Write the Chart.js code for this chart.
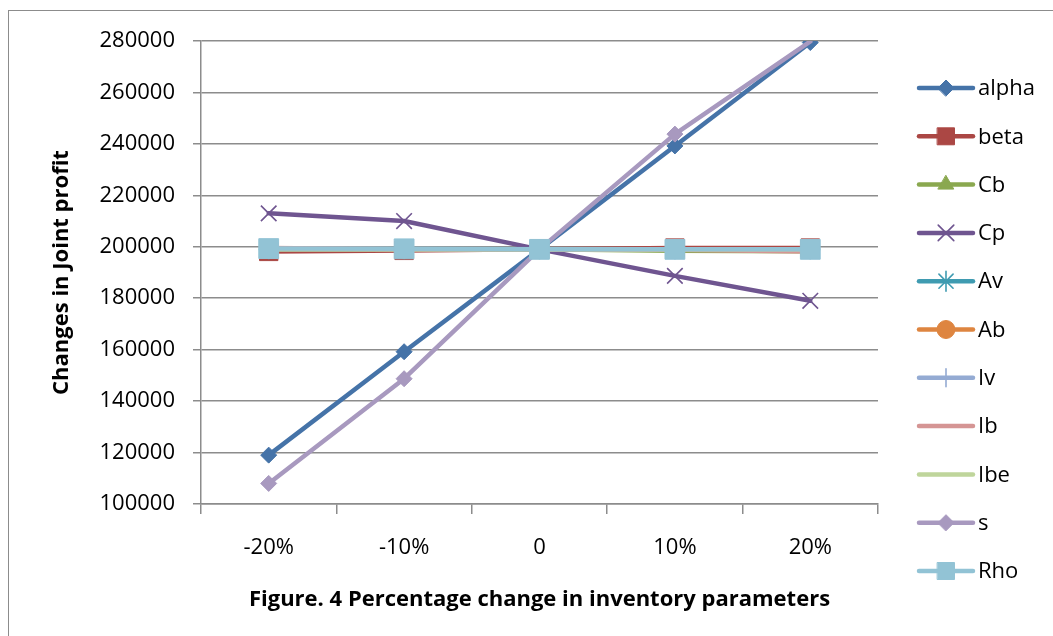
<!DOCTYPE html>
<html>
<head>
<meta charset="utf-8">
<script src="https://cdn.jsdelivr.net/npm/chart.js@4"></script>
<style>
  html, body { margin: 0; padding: 0; background: #fff; overflow: hidden; }
  #wrap { position: relative; width: 1053px; height: 636px; }
  #frame { position: absolute; left: 8px; top: 10px; width: 1100px; height: 700px; border: 1.5px solid #8c8c8c; box-sizing: border-box; }
  canvas { position: absolute; left: 0; top: 0; }
</style>
</head>
<body>
<div id="wrap">
  <div id="frame"></div>
  <canvas id="chart" width="1053" height="636"></canvas>
</div>
<script>
// Percentage changes applied to each inventory parameter
const categories = ['-20%', '-10%', '0', '10%', '20%'];

// Joint profit for each parameter change
const alphaValues = [119000, 159200, 199000, 239200, 279400];
const betaValues  = [198200, 198600, 199000, 199500, 199500];
const cbValues    = [199000, 199000, 199000, 198500, 198300];
const cpValues    = [213000, 210000, 199000, 188700, 179000];
const avValues    = [199000, 199000, 199000, 199000, 199000];
const abValues    = [199000, 199000, 199000, 199000, 199000];
const ivValues    = [199000, 199000, 199000, 199000, 199000];
const ibValues    = [199500, 199000, 199000, 198800, 198200];
const ibeValues   = [199000, 199000, 199000, 199000, 199000];
const sValues     = [108000, 148700, 199000, 243800, 279800];
const rhoValues   = [199300, 199200, 199000, 199000, 199000];

// Axis range
const yMin = 100000;
const yMax = 280000;
const yStep = 20000;

const seriesNames = ['alpha', 'beta', 'Cb', 'Cp', 'Av', 'Ab', 'Iv', 'Ib', 'Ibe', 's', 'Rho'];
const seriesValues = [alphaValues, betaValues, cbValues, cpValues, avValues, abValues,
                      ivValues, ibValues, ibeValues, sValues, rhoValues];

// Line colour, marker shape and marker size for each series
const seriesStyles = [
  { color: '#4573a8', marker: 'rectRot', radius: 8,  legendRadius: 8 },
  { color: '#ab4744', marker: 'rect',    radius: 13, legendRadius: 12 },
  { color: '#8aa84f', marker: 'triangle',radius: 9,  legendRadius: 9 },
  { color: '#6f5590', marker: 'crossRot',radius: 11, legendRadius: 11, markerWidth: 1.6 },
  { color: '#3f9bb1', marker: 'star',    radius: 10, legendRadius: 10, markerWidth: 1.6 },
  { color: '#de8540', marker: 'circle',  radius: 9,  legendRadius: 9 },
  { color: '#94abd3', marker: 'cross',   radius: 9,  legendRadius: 9, markerWidth: 1.6 },
  { color: '#d59594', marker: false,     radius: 0,  legendRadius: 0 },
  { color: '#bfd59b', marker: false,     radius: 0,  legendRadius: 0 },
  { color: '#a899bf', marker: 'rectRot', radius: [8, 8, 8, 8, 0], legendRadius: 8 },
  { color: '#92c3d5', marker: 'rect',    radius: 14, legendRadius: 12 }
];

const FONT = "'Open Sans', 'Liberation Sans', sans-serif";
const FONT_SIZE = 22;
const GRID = '#8c8c8c';

const isLineMarker = m => m === 'crossRot' || m === 'star' || m === 'cross';

const datasets = seriesNames.map((name, i) => {
  const st = seriesStyles[i];
  return {
    label: name,
    data: seriesValues[i],
    borderColor: st.color,
    backgroundColor: st.color,
    borderWidth: 4.5,
    borderCapStyle: 'round',
    borderJoinStyle: 'round',
    pointStyle: st.marker === false ? false : st.marker,
    pointRadius: st.radius,
    pointHoverRadius: st.radius,
    pointBorderWidth: isLineMarker(st.marker) ? st.markerWidth : 1,
    pointBorderColor: st.color,
    pointBackgroundColor: st.color,
    tension: 0,
    order: seriesNames.length - 1 - i
  };
});

// Legend drawn as line + marker samples on the right side
const sideLegend = {
  id: 'sideLegend',
  afterDraw(chart) {
    const ctx = chart.ctx;
    const x0 = 919, x1 = 973, textX = 978;
    const top = 88, gap = 48.3;
    ctx.save();
    seriesNames.forEach((name, i) => {
      const st = seriesStyles[i];
      const y = top + i * gap;
      ctx.strokeStyle = st.color;
      ctx.lineWidth = 4.5;
      ctx.lineCap = 'round';
      ctx.beginPath();
      ctx.moveTo(x0, y);
      ctx.lineTo(x1, y);
      ctx.stroke();
      if (st.marker) {
        const bw = isLineMarker(st.marker) ? st.markerWidth : 1;
        ctx.fillStyle = st.color;
        ctx.strokeStyle = st.color;
        ctx.lineWidth = bw;
        Chart.helpers.drawPoint(ctx, {
          pointStyle: st.marker,
          radius: st.legendRadius,
          rotation: 0,
          borderWidth: bw
        }, (x0 + x1) / 2, y);
      }
      ctx.fillStyle = '#000';
      ctx.font = FONT_SIZE + 'px ' + FONT;
      ctx.textAlign = 'left';
      ctx.textBaseline = 'middle';
      ctx.fillText(name, textX, y + 1);
    });
    ctx.restore();
  }
};

new Chart(document.getElementById('chart'), {
  type: 'line',
  data: { labels: categories, datasets },
  options: {
    responsive: false,
    animation: false,
    events: [],
    layout: { padding: { left: 0, top: 41, right: 175, bottom: 0 } },
    plugins: {
      legend: { display: false },
      tooltip: { enabled: false }
    },
    scales: {
      x: {
        offset: true,
        grid: {
          offset: true,
          drawOnChartArea: false,
          drawTicks: true,
          tickLength: 10,
          color: GRID,
          lineWidth: 1.5
        },
        border: { display: true, color: GRID, width: 1.5 },
        ticks: {
          color: '#000',
          font: { family: FONT, size: FONT_SIZE },
          padding: 21,
          maxRotation: 0
        },
        title: {
          display: true,
          text: 'Figure. 4 Percentage change in inventory parameters',
          color: '#000',
          font: { family: FONT, size: FONT_SIZE, weight: 'bold' },
          padding: { top: 0, bottom: 23 }
        },
        afterFit(scale) {
          scale.height = 636 - 504;
          scale.paddingLeft = 0;
          scale.paddingRight = 0;
        }
      },
      y: {
        min: yMin,
        max: yMax,
        grid: {
          color: GRID,
          lineWidth: 1.5,
          tickLength: 8
        },
        border: { display: true, color: GRID, width: 1.5 },
        ticks: {
          stepSize: yStep,
          color: '#000',
          font: { family: FONT, size: FONT_SIZE },
          padding: 18,
          callback: v => String(v)
        },
        title: {
          display: true,
          text: 'Changes in Joint profit',
          color: '#000',
          font: { family: FONT, size: FONT_SIZE, weight: 'bold' },
          padding: { top: 49, bottom: 0 }
        },
        afterFit(scale) {
          scale.width = 201;
          scale.paddingTop = 0;
          scale.paddingBottom = 0;
        }
      }
    }
  },
  plugins: [sideLegend]
});
</script>
</body>
</html>
